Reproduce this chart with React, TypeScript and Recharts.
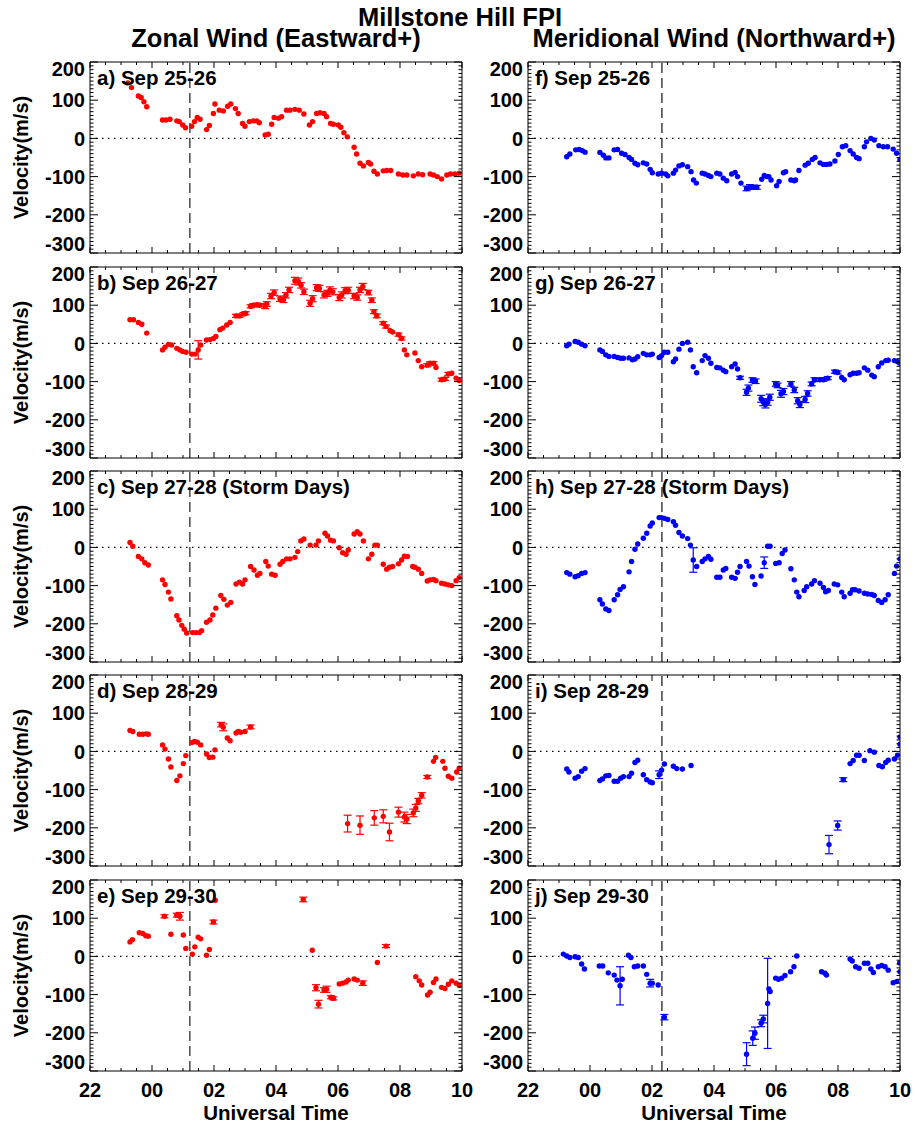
import { ScatterChart, Scatter, XAxis, YAxis, ReferenceLine, ErrorBar } from 'recharts';

type Pt = [number, number, number?];

// UT hours (22 = 22 UT of first day, 34 = 10 UT of next day), velocity m/s, optional error
const zonalA: Pt[] = [
  [23.22, 145], [23.34, 133], [23.56, 111], [23.65, 107], [23.74, 96], [23.83, 83],
  [24.34, 48], [24.45, 48], [24.58, 50], [24.8, 46], [24.88, 44], [24.99, 35], [25.08, 28],
  [25.28, 32], [25.37, 44], [25.46, 55], [25.55, 50], [25.76, 23], [25.85, 34],
  [25.98, 65], [26.03, 90], [26.17, 74], [26.3, 72], [26.44, 84], [26.54, 90], [26.69, 78], [26.78, 65],
  [26.92, 39], [27.0, 32], [27.14, 44], [27.27, 46], [27.38, 46], [27.46, 41],
  [27.65, 9], [27.75, 11], [27.86, 37], [27.94, 55], [28.08, 53], [28.18, 57], [28.34, 74], [28.45, 74],
  [28.61, 76], [28.75, 74], [28.9, 64], [29.08, 35], [29.18, 44], [29.31, 65], [29.42, 67], [29.55, 65],
  [29.63, 57], [29.76, 39], [29.85, 37], [30.01, 35], [30.09, 29], [30.19, 15], [30.3, 4],
  [30.52, -23], [30.6, -41], [30.71, -65], [30.82, -72], [30.98, -63], [31.05, -67], [31.16, -86], [31.27, -93],
  [31.46, -85], [31.57, -84], [31.7, -84], [31.95, -93], [32.09, -96], [32.22, -96], [32.43, -98], [32.59, -93],
  [32.73, -95], [32.97, -93], [33.08, -96], [33.2, -100], [33.34, -106], [33.51, -96], [33.63, -93],
  [33.77, -93], [33.91, -91],
];

const zonalB: Pt[] = [
  [23.29, 62], [23.4, 62], [23.56, 55], [23.67, 50], [23.83, 27],
  [24.34, -17], [24.42, -10], [24.53, -3], [24.63, -4], [24.8, -13], [24.9, -17], [24.99, -21], [25.1, -23],
  [25.28, -28], [25.39, -28], [25.49, -17, 24], [25.57, -4],
  [25.76, 9], [25.87, 10], [25.98, 13], [26.06, 18], [26.19, 36], [26.28, 40], [26.41, 48], [26.52, 55],
  [26.71, 72, 4], [26.82, 72, 4], [26.95, 77, 4], [27.02, 79, 4], [27.18, 97, 4], [27.27, 100, 4],
  [27.38, 101, 4], [27.48, 100, 4], [27.65, 97, 6], [27.7, 103, 6], [27.84, 124, 7], [27.94, 133, 7],
  [28.13, 117, 7], [28.24, 114, 7], [28.32, 126, 7], [28.42, 140, 7], [28.61, 164, 9], [28.72, 162, 9],
  [28.81, 152, 7], [28.9, 135, 7], [29.1, 105, 8], [29.18, 117, 8], [29.31, 146, 8], [29.4, 144, 8],
  [29.55, 127, 8], [29.66, 131, 8], [29.74, 140, 8], [29.83, 135, 8], [30.04, 120, 8], [30.12, 127, 8],
  [30.23, 138, 8], [30.33, 139, 8], [30.52, 124, 7], [30.62, 120, 7], [30.71, 140, 7], [30.8, 149, 8],
  [30.98, 133, 6], [31.09, 113, 6], [31.16, 83, 5], [31.25, 72, 5], [31.46, 53, 4], [31.55, 44, 4],
  [31.68, 33], [31.76, 30], [31.95, 23, 4], [32.05, 13, 4], [32.14, -17], [32.22, -30],
  [32.48, -25], [32.59, -45], [32.7, -61], [32.88, -57, 4], [32.97, -52, 4], [33.08, -52, 4], [33.16, -63],
  [33.34, -95, 4], [33.45, -93, 4], [33.56, -80, 4], [33.67, -78], [33.81, -91], [33.91, -97],
];

const zonalC: Pt[] = [
  [23.29, 13], [23.38, 3], [23.56, -24], [23.67, -30], [23.77, -40], [23.88, -46],
  [24.34, -85], [24.42, -97], [24.53, -117], [24.61, -135], [24.8, -179], [24.87, -190], [24.96, -204],
  [25.04, -214], [25.12, -224], [25.31, -223], [25.42, -223], [25.53, -223], [25.6, -218],
  [25.76, -196], [25.87, -190], [25.96, -177], [26.06, -159], [26.22, -126], [26.32, -136], [26.43, -151],
  [26.54, -144], [26.71, -96], [26.82, -91], [26.92, -96], [27.0, -85], [27.18, -50], [27.29, -59],
  [27.4, -73], [27.48, -68], [27.67, -37], [27.75, -49], [27.86, -70], [27.97, -73],
  [28.13, -44], [28.22, -37], [28.34, -30], [28.45, -30], [28.61, -26], [28.7, -11], [28.8, 17], [28.9, 22],
  [29.1, 6], [29.29, 6], [29.37, 17], [29.58, 37], [29.66, 30], [29.76, 19], [29.85, 17],
  [30.04, -1], [30.15, -14], [30.26, -18], [30.33, -7], [30.52, 35], [30.62, 41], [30.71, 35], [30.82, 17],
  [30.98, -30], [31.09, -18], [31.19, 6], [31.27, 6], [31.46, -44], [31.57, -57], [31.66, -52], [31.76, -50],
  [31.95, -43], [32.05, -33], [32.14, -23], [32.24, -24], [32.41, -50], [32.48, -52], [32.59, -57], [32.7, -68],
  [32.88, -88], [32.97, -85], [33.08, -84], [33.16, -87], [33.34, -94], [33.45, -96], [33.56, -98],
  [33.67, -100], [33.81, -87], [33.91, -79],
];

const zonalD: Pt[] = [
  [23.29, 55], [23.38, 52], [23.59, 45], [23.7, 45], [23.81, 46], [23.88, 45],
  [24.34, 17], [24.42, 6], [24.53, -20], [24.61, -41], [24.8, -76], [24.9, -64], [25.01, -32], [25.09, -11],
  [25.28, 23], [25.37, 26], [25.46, 24], [25.57, 17], [25.76, -7], [25.85, -16], [25.96, -15], [26.03, 4],
  [26.23, 70, 6], [26.3, 63, 9], [26.43, 35], [26.52, 28], [26.71, 48], [26.78, 52], [26.86, 50],
  [27.0, 52], [27.18, 64, 5],
  [30.31, -189, 22], [30.71, -193, 24], [31.17, -174, 19], [31.46, -170, 17], [31.66, -211, 23],
  [31.95, -159, 13], [32.14, -172, 13], [32.22, -177, 12], [32.43, -161, 10], [32.51, -148, 9],
  [32.59, -130, 7], [32.7, -115, 7], [32.88, -67, 4], [33.08, -26], [33.15, -16], [33.38, -26],
  [33.45, -44], [33.56, -65], [33.67, -70], [33.83, -54], [33.91, -44],
];

const zonalE: Pt[] = [
  [23.29, 38], [23.37, 44], [23.59, 62], [23.7, 60], [23.8, 54], [23.88, 53],
  [24.4, 105, 4], [24.61, 58], [24.8, 108, 5], [24.9, 105, 10], [25.01, 56], [25.09, 21],
  [25.3, 6], [25.38, 25], [25.49, 50], [25.57, 46], [25.76, 3], [25.85, 18], [25.98, 90, 5], [26.04, 147],
  [28.88, 149, 6], [29.17, 16], [29.29, -82, 8], [29.37, -125, 10], [29.55, -88, 6], [29.63, -86, 8],
  [29.77, -107, 4], [29.85, -110, 4], [30.04, -72], [30.15, -70], [30.26, -67], [30.33, -62],
  [30.52, -59], [30.62, -62], [30.8, -70, 6], [31.27, -16], [31.55, 27, 4],
  [32.51, -53], [32.62, -64], [32.7, -75], [32.89, -101], [32.97, -94], [33.08, -68], [33.16, -59],
  [33.34, -81], [33.45, -84], [33.56, -73], [33.67, -64], [33.81, -70], [33.91, -76],
];

const meridF: Pt[] = [
  [23.25, -48], [23.35, -41], [23.54, -30], [23.65, -29], [23.75, -32], [23.84, -36],
  [24.32, -37], [24.43, -44], [24.51, -51], [24.61, -51], [24.78, -30], [24.89, -29], [25.02, -39],
  [25.13, -42], [25.26, -50], [25.34, -55], [25.45, -65], [25.54, -69], [25.72, -64], [25.83, -67],
  [25.94, -81], [26.01, -90], [26.2, -93], [26.31, -91], [26.44, -93], [26.51, -98],
  [26.69, -91], [26.76, -83], [26.87, -72], [26.98, -69], [27.15, -74], [27.26, -87], [27.34, -109], [27.43, -117],
  [27.62, -91], [27.71, -93], [27.82, -97], [27.9, -100], [28.09, -91], [28.19, -93], [28.3, -104], [28.41, -111],
  [28.57, -93], [28.68, -89], [28.76, -100], [28.87, -117],
  [29.05, -131, 6], [29.16, -127, 6], [29.27, -128, 5], [29.38, -128, 5],
  [29.54, -107], [29.62, -97], [29.7, -100], [29.77, -100], [29.84, -109], [30.02, -124], [30.1, -113],
  [30.24, -90], [30.31, -87], [30.48, -109], [30.59, -111], [30.63, -109], [30.74, -84], [30.94, -70],
  [31.04, -65], [31.17, -55], [31.26, -50], [31.42, -64], [31.53, -68], [31.63, -68], [31.74, -67],
  [31.9, -59], [32.01, -42], [32.14, -22], [32.25, -19], [32.39, -32], [32.49, -41], [32.6, -50], [32.68, -53],
  [32.85, -22], [32.92, -9], [33.06, 0], [33.17, -4], [33.32, -19], [33.46, -22], [33.6, -22], [33.78, -28],
  [33.89, -39], [34.0, -55],
];

const meridG: Pt[] = [
  [23.25, -6], [23.32, -2], [23.52, 5], [23.62, 3], [23.73, -2], [23.84, -6],
  [24.32, -17], [24.4, -21], [24.51, -30], [24.61, -34], [24.78, -34], [24.89, -37], [24.99, -39], [25.08, -39],
  [25.26, -38], [25.37, -43], [25.45, -41], [25.54, -35], [25.72, -26], [25.83, -30], [25.94, -30], [26.01, -28],
  [26.23, -37], [26.31, -32], [26.4, -23], [26.51, -23], [26.69, -48], [26.76, -41], [26.87, -15], [26.98, 0],
  [27.15, 3], [27.24, -17], [27.33, -61], [27.44, -77], [27.62, -45], [27.71, -32], [27.82, -39], [27.9, -52],
  [28.09, -63], [28.19, -64], [28.3, -70], [28.38, -74], [28.57, -61], [28.68, -54], [28.76, -67], [28.84, -90, 4],
  [29.05, -128, 8], [29.11, -117, 8], [29.24, -96, 6], [29.34, -99, 6],
  [29.52, -145, 9], [29.59, -154, 9], [29.66, -160, 9], [29.73, -154, 8], [29.8, -141, 8],
  [29.99, -106, 6], [30.05, -110, 6], [30.16, -132, 9], [30.24, -126, 8],
  [30.48, -106, 6], [30.59, -122, 7], [30.7, -150, 8], [30.77, -160, 8], [30.94, -147, 8], [31.02, -131, 7],
  [31.15, -106, 5], [31.24, -95, 5], [31.42, -95, 4], [31.53, -95, 4], [31.67, -91, 4],
  [31.9, -74, 4], [31.99, -76, 4], [32.12, -89], [32.2, -95], [32.39, -82], [32.49, -78], [32.6, -78], [32.68, -77],
  [32.85, -64], [32.96, -70], [33.09, -83], [33.17, -87], [33.3, -61], [33.41, -51], [33.54, -45], [33.62, -44],
  [33.82, -45], [33.92, -48], [34.0, -52],
];

const meridH: Pt[] = [
  [23.25, -66], [23.35, -70], [23.52, -77], [23.62, -74], [23.73, -68], [23.84, -66],
  [24.32, -137], [24.4, -148], [24.51, -161], [24.61, -165], [24.78, -137], [24.89, -124], [24.97, -110], [25.08, -103],
  [25.26, -64], [25.34, -37], [25.45, -5], [25.54, 9], [25.72, 24], [25.83, 37], [25.94, 56], [26.01, 64],
  [26.23, 78], [26.31, 78], [26.4, 76], [26.51, 73], [26.69, 67], [26.76, 58], [26.87, 39], [26.98, 30],
  [27.15, 23], [27.24, 6], [27.33, -33, 32], [27.44, -50], [27.62, -37], [27.71, -30], [27.82, -24], [27.9, -31],
  [28.09, -78], [28.19, -78], [28.3, -59], [28.38, -55], [28.57, -78], [28.68, -81], [28.76, -65], [28.84, -50],
  [29.05, -37], [29.13, -49], [29.24, -77], [29.32, -97], [29.52, -75], [29.62, -40, 15], [29.73, 3], [29.81, 3],
  [29.99, -42], [30.1, -40], [30.2, -16], [30.29, -7], [30.48, -56], [30.59, -85],
  [30.67, -117], [30.74, -129], [30.91, -113], [30.99, -103], [31.15, -96], [31.24, -87], [31.42, -94],
  [31.53, -105], [31.6, -116], [31.69, -113], [31.88, -96], [31.99, -98], [32.12, -117], [32.2, -129],
  [32.39, -120], [32.47, -111], [32.55, -111], [32.68, -114], [32.85, -120], [32.96, -122], [33.09, -123],
  [33.17, -126], [33.3, -139], [33.41, -144], [33.52, -137], [33.62, -124], [33.82, -68], [33.89, -49], [34.0, -30],
];

const meridI: Pt[] = [
  [23.25, -46], [23.32, -54], [23.52, -70], [23.62, -66], [23.73, -52], [23.84, -45],
  [24.32, -76], [24.4, -72], [24.51, -64], [24.61, -63], [24.78, -78], [24.89, -78], [24.99, -70], [25.08, -66],
  [25.26, -66], [25.34, -57], [25.45, -29], [25.54, -23], [25.72, -61], [25.83, -74], [25.94, -80], [26.01, -82],
  [26.23, -61, 10], [26.31, -49], [26.4, -33], [26.69, -39], [26.8, -45], [26.98, -46], [27.26, -37],
  [31.71, -244, 24], [31.99, -194, 12], [32.17, -74, 5], [32.39, -32], [32.49, -24], [32.6, -10], [32.68, -10],
  [32.85, -24], [33.03, 2], [33.17, -2], [33.32, -37], [33.43, -40], [33.54, -29], [33.62, -23],
  [33.82, -20], [33.92, -10], [34.0, 19], [34.0, 38],
];

const meridJ: Pt[] = [
  [23.14, 6], [23.25, 1], [23.35, -3], [23.52, -1], [23.62, -3], [23.73, -20], [23.82, -33],
  [24.3, -25], [24.41, -25], [24.59, -43], [24.78, -49], [24.87, -62], [24.97, -77, 50], [25.04, -60],
  [25.24, 3], [25.32, -3], [25.43, -27], [25.54, -25], [25.72, -25], [25.83, -47], [25.94, -70, 10], [26.01, -70],
  [26.2, -75], [26.4, -159, 7],
  [29.05, -256, 30], [29.25, -214, 19], [29.32, -201, 16], [29.52, -175, 9], [29.59, -164, 10],
  [29.73, -123, 118], [29.77, -85], [29.81, -92], [29.99, -57], [30.08, -60], [30.18, -57], [30.29, -50],
  [30.47, -40], [30.58, -27], [30.67, 1], [31.47, -40], [31.58, -44], [31.63, -49],
  [32.39, -7], [32.46, -12], [32.57, -27], [32.68, -31], [32.85, -18], [32.96, -18], [33.06, -33], [33.14, -42],
  [33.3, -27], [33.41, -24], [33.52, -27], [33.62, -36], [33.78, -69], [33.89, -66], [34.0, -40], [33.99, -17],
];

const X_MAJOR = [22, 24, 26, 28, 30, 32, 34];
const Y_MAJOR = [-300, -200, -100, 0, 100, 200];
const SUNSET = [25.22, 26.32]; // dashed line, zonal / meridional column

const RED = '#ff0000';
const BLUE = '#0000ff';
const FONT = '"Liberation Sans", Arial, Helvetica, sans-serif';

const panels = [
  { label: 'a) Sep 25-26', data: zonalA, col: 0, row: 0 },
  { label: 'b) Sep 26-27', data: zonalB, col: 0, row: 1 },
  { label: 'c) Sep 27-28 (Storm Days)', data: zonalC, col: 0, row: 2 },
  { label: 'd) Sep 28-29', data: zonalD, col: 0, row: 3 },
  { label: 'e) Sep 29-30', data: zonalE, col: 0, row: 4 },
  { label: 'f) Sep 25-26', data: meridF, col: 1, row: 0 },
  { label: 'g) Sep 26-27', data: meridG, col: 1, row: 1 },
  { label: 'h) Sep 27-28 (Storm Days)', data: meridH, col: 1, row: 2 },
  { label: 'i) Sep 28-29', data: meridI, col: 1, row: 3 },
  { label: 'j) Sep 29-30', data: meridJ, col: 1, row: 4 },
];

// layout
const PLOT_W = 372;
const PLOT_H = 191;
const COL_LEFT = [90, 528];
const ROW_TOP = [62, 267, 471, 675, 880];
const Y_W = 55;
const M_TOP = 10;
const M_RIGHT = 15;
const X_H = 30;
const CHART_W = Y_W + PLOT_W + M_RIGHT;
const CHART_H = M_TOP + PLOT_H + X_H;
const PT = M_TOP;
const PB = M_TOP + PLOT_H;
const PL = Y_W;
const PR = Y_W + PLOT_W;

const X_TICKS = Array.from({ length: 25 }, (_, i) => 22 + i * 0.5);
const Y_TICKS = Array.from({ length: 51 }, (_, i) => -300 + i * 10);

const fmtHour = (v: number) => String(v % 24).padStart(2, '0');

function XTick(props: any) {
  const { x, payload, showLabel } = props;
  const v = payload.value;
  const major = X_MAJOR.includes(v);
  const len = major ? 6 : 3;
  return (
    <g>
      <line x1={x} x2={x} y1={PB} y2={PB - len} stroke="#000" strokeWidth={1} />
      <line x1={x} x2={x} y1={PT} y2={PT + len} stroke="#000" strokeWidth={1} />
      {showLabel && major && (
        <text x={x} y={PB + 26} textAnchor="middle" fontFamily={FONT} fontWeight="bold" fontSize={20} fill="#000">
          {fmtHour(v)}
        </text>
      )}
    </g>
  );
}

function YTick(props: any) {
  const { y, payload } = props;
  const v = payload.value;
  const major = Y_MAJOR.includes(v);
  const len = major ? 8 : 3.5;
  let ly = y;
  if (v === 200) ly = y + 6.5;
  if (v === -300) ly = y - 9.5;
  return (
    <g>
      <line x1={PL} x2={PL + len} y1={y} y2={y} stroke="#000" strokeWidth={1} />
      <line x1={PR} x2={PR - len} y1={y} y2={y} stroke="#000" strokeWidth={1} />
      {major && (
        <text x={PL - 5} y={ly} dy="0.36em" textAnchor="end" fontFamily={FONT} fontWeight="bold" fontSize={20} fill="#000">
          {v}
        </text>
      )}
    </g>
  );
}

function Panel({ data, col, row }: { data: Pt[]; col: number; row: number }) {
  const color = col === 0 ? RED : BLUE;
  const rows = data.map(([t, v, e]) => ({ t, v, e: e ?? 0 }));
  return (
    <div style={{ position: 'absolute', left: COL_LEFT[col] - Y_W, top: ROW_TOP[row] - M_TOP }}>
      <ScatterChart width={CHART_W} height={CHART_H} margin={{ top: M_TOP, right: M_RIGHT, bottom: 0, left: 0 }}>
        <XAxis
          dataKey="t"
          type="number"
          domain={[22, 34]}
          ticks={X_TICKS}
          interval={0}
          allowDataOverflow
          height={X_H}
          tickLine={false}
          tickSize={0}
          tickMargin={0}
          axisLine={{ stroke: '#000', strokeWidth: 1 }}
          tick={(p: any) => <XTick {...p} showLabel={row === 4} />}
        />
        <YAxis
          dataKey="v"
          type="number"
          domain={[-300, 200]}
          ticks={Y_TICKS}
          interval={0}
          allowDataOverflow
          width={Y_W}
          tickLine={false}
          tickSize={0}
          tickMargin={0}
          axisLine={{ stroke: '#000', strokeWidth: 1 }}
          tick={(p: any) => <YTick {...p} />}
        />
        <ReferenceLine y={200} stroke="#000" strokeWidth={1} />
        <ReferenceLine x={34} stroke="#000" strokeWidth={1} />
        <ReferenceLine y={0} stroke="#000" strokeWidth={1.3} strokeDasharray="1.5 4.5" />
        <ReferenceLine
          x={SUNSET[col]}
          stroke={col === 0 ? '#555' : '#222'}
          strokeWidth={col === 0 ? 1.6 : 1.3}
          strokeDasharray="10 5"
        />
        <Scatter
          data={rows}
          dataKey="v"
          isAnimationActive={false}
          shape={(p: any) => <circle cx={p.cx} cy={p.cy} r={2.7} fill={color} />}
        >
          <ErrorBar dataKey="e" direction="y" width={4} stroke={color} strokeWidth={1.2} isAnimationActive={false} />
        </Scatter>
      </ScatterChart>
    </div>
  );
}

export default function App() {
  const txt = { fontFamily: FONT, fontWeight: 'bold' as const, fill: '#000' };
  return (
    <div style={{ position: 'absolute', left: 0, top: 0, width: 915, height: 1126, background: '#fff' }}>
      {panels.map((p) => (
        <Panel key={p.label + p.col} data={p.data} col={p.col} row={p.row} />
      ))}
      <svg width={915} height={1126} style={{ position: 'absolute', left: 0, top: 0, pointerEvents: 'none' }}>
        <text x={460} y={26} textAnchor="middle" fontSize={25.5} {...txt}>Millstone Hill FPI</text>
        <text x={COL_LEFT[0] + PLOT_W / 2} y={47} textAnchor="middle" fontSize={25.5} {...txt}>Zonal Wind (Eastward+)</text>
        <text x={COL_LEFT[1] + PLOT_W / 2} y={47} textAnchor="middle" fontSize={25.5} {...txt}>Meridional Wind (Northward+)</text>
        {panels.map((p) => (
          <text key={p.label + p.col} x={COL_LEFT[p.col] + 7} y={ROW_TOP[p.row] + 23} fontSize={20.5} {...txt}>
            {p.label}
          </text>
        ))}
        {ROW_TOP.map((top) => (
          <text
            key={top}
            x={28}
            y={top + PLOT_H / 2}
            textAnchor="middle"
            fontSize={20}
            transform={`rotate(-90 28 ${top + PLOT_H / 2})`}
            {...txt}
          >
            Velocity(m/s)
          </text>
        ))}
        {COL_LEFT.map((left) => (
          <text key={left} x={left + PLOT_W / 2} y={1120} textAnchor="middle" fontSize={20.5} {...txt}>
            Universal Time
          </text>
        ))}
      </svg>
    </div>
  );
}
